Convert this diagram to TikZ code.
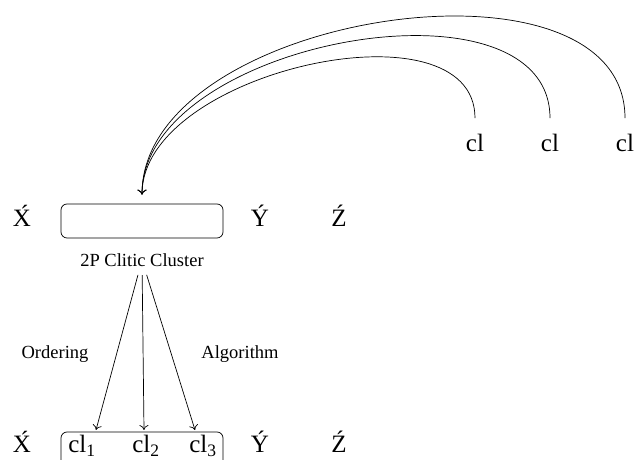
\documentclass[tikz,border=0pt]{standalone}
\usepackage{fontspec}
\setmainfont{Liberation Serif}
\usetikzlibrary{arrows.meta}

\tikzset{
  word/.style={font=\fontsize{25}{29}\selectfont, anchor=base},
  lab/.style={font=\fontsize{18.5}{22}\selectfont},
  slot/.style={draw, line width=0.7pt, rounded corners=6pt, minimum width=162pt, minimum height=34pt},
  hop/.style={line width=0.7pt, -{To[length=5pt,width=9pt]}},
}

\begin{document}
\begin{tikzpicture}[x=1pt,y=1pt]
		\useasboundingbox (0,0) rectangle (635,460);
		
		% Clitics in their base positions
		\node[word] (cl1) at (475,308) {cl};
		\node[word] (cl2) at (550,308) {cl};
		\node[word] (cl3) at (625,308) {cl};
		
		% Upper row with the empty cluster
		\node[word] (X1) at (22,233) {\'X};
		\node[slot] (C1) at (142,239) {};
		\node[word] (Y1) at (260,233) {\'Y};
		\node[word] (Z1) at (339,233) {\'Z};
		\node[lab] (lbl) at (142,200) {2P Clitic Cluster};
		
		% Lower row with the ordered cluster
		\node[word] (X2) at (22,7) {\'X};
		\node[slot] (C2) at (142,11) {};
		\node[word] (k1) at (82,7) {cl\textsubscript{1}};
		\node[word] (k2) at (146,7) {cl\textsubscript{2}};
		\node[word] (k3) at (203,7) {cl\textsubscript{3}};
		\node[word] (Y2) at (260,7) {\'Y};
		\node[word] (Z2) at (339,7) {\'Z};
		
		% Side labels
		\node[lab] (ord) at (55,106) {Ordering};
		\node[lab] (alg) at (240,106) {Algorithm};
		
		% Arrow tips above the lower cluster
		\coordinate (T1) at (96,30);
		\coordinate (T2) at (144,30);
		\coordinate (T3) at (195,30);
		
		% Movement into the cluster
		\draw[hop, shorten <=13pt, shorten >=9pt] (cl1) to[out=90,in=90,looseness=1.0] (C1);
		\draw[hop, shorten <=13pt, shorten >=9pt] (cl2) to[out=90,in=90,looseness=1.01] (C1);
		\draw[hop, shorten <=13pt, shorten >=9pt] (cl3) to[out=90,in=90,looseness=1.0] (C1);
		
		% Ordering arrows
		\draw[hop, shorten <=5pt] (lbl) -- (T1);
		\draw[hop, shorten <=5pt] (lbl) -- (T2);
		\draw[hop, shorten <=5pt] (lbl) -- (T3);
	\end{tikzpicture}
\end{document}
